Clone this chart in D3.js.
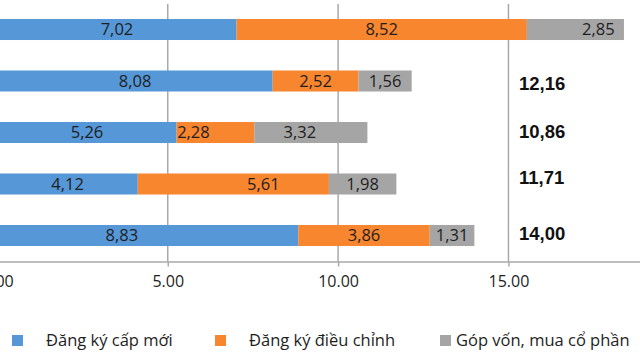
<!DOCTYPE html>
<html>
<head>
<meta charset="utf-8">
<script src="https://cdn.jsdelivr.net/npm/d3@7"></script>
<style>
  html, body { margin: 0; padding: 0; background: #fff; }
  svg { display: block; }
</style>
</head>
<body>
<svg id="chart" width="640" height="360"></svg>
<script>
// ---- data ----
const categories = ["Nhóm 1", "Nhóm 2", "Nhóm 3", "Nhóm 4", "Nhóm 5"];
const seriesNames = ["Đăng ký cấp mới", "Đăng ký điều chỉnh", "Góp vốn, mua cổ phần"];
const newReg = [7.02, 8.08, 5.26, 4.12, 8.83];
const adjReg = [8.52, 2.52, 2.28, 5.61, 3.86];
const capital = [2.85, 1.56, 3.32, 1.98, 1.31];
const totals = [18.39, 12.16, 10.86, 11.71, 14.00];
const xTicks = [0, 5, 10, 15];

// ---- drawing ----
const W = 640, H = 360;
const colors = ["#5597d7", "#f7862f", "#a5a5a5"];
const svg = d3.select("#chart");

const x = d3.scaleLinear().domain([0, 20]).range([-2.6, 678.8]);
const y = d3.scaleBand().domain(categories).range([3.75, 261.25])
  .paddingInner(0.592).paddingOuter(0.296);

const fmt = v => d3.format(".2f")(v).replace(".", ",");

// gridlines
svg.append("g").selectAll("line").data(xTicks.filter(t => t > 0)).join("line")
  .attr("x1", d => x(d)).attr("x2", d => x(d))
  .attr("y1", 4).attr("y2", 261.5)
  .attr("stroke", "#a9a9a9").attr("stroke-width", 1.5);

// stacked bars
const rows = categories.map((c, i) => ({ cat: c, vals: [newReg[i], adjReg[i], capital[i]] }));
const stack = d3.stack().keys([0, 1, 2]).value((d, k) => d.vals[k]);
const layers = stack(rows);

// manual label nudges (px) matching the original chart's moved labels
const nudge = [
  [0, 0, 23],
  [0, 0, 0],
  [0, -22, -11],
  [0, 30, 0],
  [-26, 0, 0]
];

layers.forEach((layer, k) => {
  const g = svg.append("g");
  g.selectAll("rect").data(layer).join("rect")
    .attr("x", d => x(d[0]))
    .attr("width", d => x(d[1]) - x(d[0]))
    .attr("y", d => y(d.data.cat))
    .attr("height", y.bandwidth())
    .attr("fill", colors[k]);
  g.selectAll("text").data(layer).join("text")
    .attr("x", (d, i) => (x(d[0]) + x(d[1])) / 2 + nudge[i][k])
    .attr("y", d => y(d.data.cat) + y.bandwidth() / 2)
    .attr("dy", "0.36em")
    .attr("text-anchor", "middle")
    .attr("font-family", "'Open Sans', sans-serif")
    .attr("font-size", 16.5)
    .attr("fill", "#1e1e1e")
    .text(d => fmt(d.data.vals[k]));
});

// totals (shown to the right of the 15 gridline when the bar does not reach it)
const totalDy = [0, 2, -1.5, -6.5, -2];
svg.append("g").selectAll("text").data(totals.map((t, i) => ({ t, i })).filter(d => d.t < 15))
  .join("text")
  .attr("x", x(15) + 10.5)
  .attr("y", d => y(categories[d.i]) + y.bandwidth() / 2 + totalDy[d.i])
  .attr("dy", "0.36em")
  .attr("font-family", "'Liberation Sans', Arial, sans-serif")
  .attr("font-weight", "bold")
  .attr("font-size", 18.5)
  .attr("fill", "#111")
  .text(d => fmt(d.t));

// x axis
const axis = d3.axisBottom(x).tickValues(xTicks).tickSize(5).tickPadding(9)
  .tickFormat(d3.format(".2f"));
const ax = svg.append("g").attr("transform", "translate(0,261.5)").call(axis);
ax.select(".domain").attr("stroke", "#a9a9a9").attr("stroke-width", 1.5);
ax.selectAll(".tick line").attr("stroke", "#a9a9a9").attr("stroke-width", 1.5);
ax.selectAll(".tick text")
  .attr("font-family", "'Open Sans', sans-serif")
  .attr("font-size", 16)
  .attr("fill", "#1e1e1e");

// legend
const legendX = [12, 215, 440];
const legendTextX = [46, 249, 456];
const lg = svg.append("g");
seriesNames.forEach((name, k) => {
  lg.append("rect").attr("x", legendX[k]).attr("y", 335).attr("width", 11).attr("height", 11)
    .attr("fill", colors[k]);
  lg.append("text").attr("x", legendTextX[k]).attr("y", 345.5)
    .attr("font-family", "'Open Sans', sans-serif")
    .attr("font-size", 16.5)
    .attr("fill", "#1e1e1e")
    .text(name);
});
</script>
</body>
</html>
